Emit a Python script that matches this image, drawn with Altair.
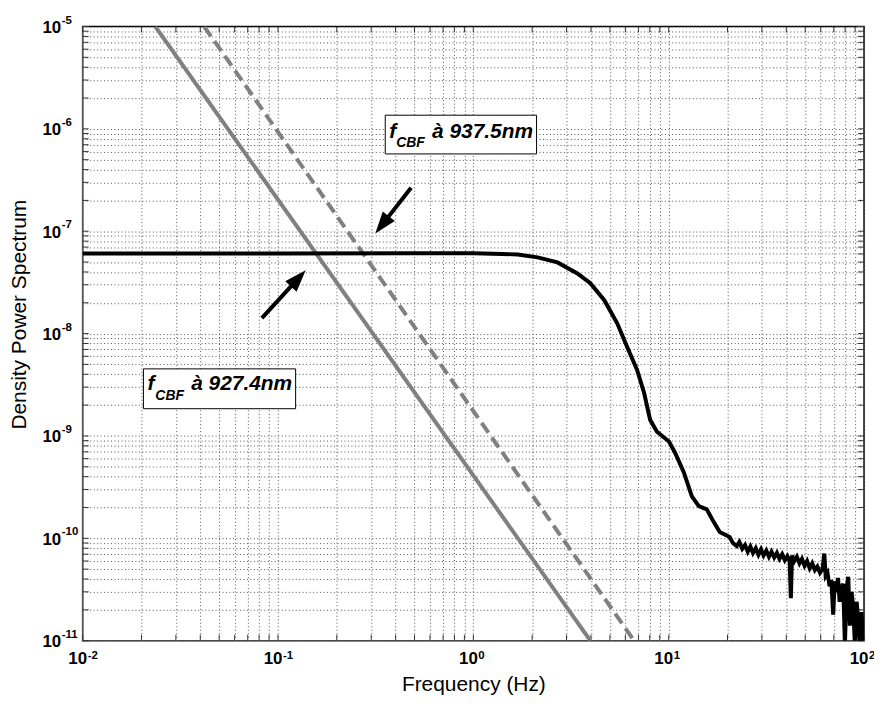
import altair as alt
import pandas as pd

# ---------------- data ----------------
freq = [0.01, 0.1, 0.5, 1.0, 1.4, 1.686, 2.132, 2.696, 3.408, 3.97, 4.68, 5.45, 6.13,
        6.89, 7.48, 8.03, 8.71, 10.03, 10.76, 11.96, 13.14, 14.26, 15.66, 17.01, 18.25,
        20.51, 21.3, 22.3, 23.0, 23.8, 24.6, 25.4, 26.2, 27.0, 27.9, 28.8, 29.7, 30.6,
        31.6, 32.6, 33.6, 34.7, 35.8, 36.9, 38.1, 39.3, 40.5, 41.6, 42.2, 42.8, 44.0,
        45.3, 46.7, 48.1, 49.6, 51.1, 52.7, 54.3, 56.0, 57.7, 59.5, 61.3, 62.6, 63.6,
        65.0, 66.6, 68.0, 69.5, 70.8, 72.2, 73.6, 75.0, 76.6, 78.2, 79.8, 81.4, 83.0,
        84.6, 86.3, 88.0, 89.8, 91.6, 93.4, 95.2, 97.1, 99.0, 100.0]
power = [6.05e-8, 6.05e-8, 6.08e-8, 6.08e-8, 6.0e-8, 5.93e-8, 5.55e-8, 4.96e-8, 3.87e-8,
         3.10e-8, 2.12e-8, 1.26e-8, 7.4e-9, 4.42e-9, 2.64e-9, 1.44e-9, 1.10e-9, 8.81e-10,
         6.89e-10, 4.40e-10, 2.57e-10, 2.06e-10, 1.92e-10, 1.44e-10, 1.15e-10,
         1.03e-10, 9.0e-11, 8.4e-11, 9.2e-11, 7.9e-11, 8.6e-11, 7.4e-11, 8.3e-11, 7.2e-11,
         8.0e-11, 6.9e-11, 7.8e-11, 6.8e-11, 7.6e-11, 6.6e-11, 7.4e-11, 6.5e-11, 7.2e-11,
         6.3e-11, 7.0e-11, 6.1e-11, 6.7e-11, 6.0e-11, 2.6e-11, 6.8e-11, 6.0e-11, 6.6e-11,
         5.7e-11, 6.3e-11, 5.4e-11, 6.0e-11, 5.1e-11, 5.7e-11, 4.9e-11, 5.3e-11, 4.6e-11,
         5.0e-11, 7.1e-11, 4.3e-11, 4.6e-11, 3.4e-11, 3.9e-11, 1.8e-11, 3.8e-11, 3.0e-11,
         4.1e-11, 2.4e-11, 3.3e-11, 3.6e-11, 9e-12, 3.2e-11, 4.2e-11, 1.4e-11, 3.0e-11,
         2.2e-11, 9e-12, 2.4e-11, 1.6e-11, 9e-12, 1.9e-11, 9e-12, 1.5e-11]

# f_CBF asymptotes (927.4 nm solid, 937.5 nm dashed)
cbf1_freq = [0.02355, 3.972]
cbf1_power = [1e-5, 1e-11]
cbf2_freq = [0.04188, 6.65]
cbf2_power = [1e-5, 1e-11]

# annotations
label_texts = ["à 937.5nm", "à 927.4nm"]
label_f_pos = [0.3710, 0.02145]
label_sub_pos = [0.4028, 0.02355]
label_rest_pos = [0.6145, 0.03592]
label_p_base = [8.145e-7, 2.82e-9]
label_p_sub = [6.657e-7, 2.255e-9]
box_f1 = [0.354, 0.02047]
box_f2 = [2.107, 0.1231]
box_p1 = [5.69e-7, 1.845e-9]
box_p2 = [1.36e-6, 4.52e-9]
arrow_tail_f = [0.4801, 0.0827]
arrow_tail_p = [2.658e-7, 1.415e-8]
arrow_head_f = [0.3409, 0.1270]
arrow_head_p = [1.153e-7, 3.457e-8]

# ticks and tick labels
x_ticks = [m * 10.0 ** k for k in range(-2, 2) for m in range(1, 10)] + [100.0]
y_ticks = [m * 10.0 ** k for k in range(-11, -5) for m in range(1, 10)] + [1e-5]
x_decades = [0.01, 0.1, 1.0, 10.0, 100.0]
x_exps = ["-2", "-1", "0", "1", "2"]
y_decades = [1e-11, 1e-10, 1e-9, 1e-8, 1e-7, 1e-6, 1e-5]
y_exps = ["-11", "-10", "-9", "-8", "-7", "-6", "-5"]

W, H = 785, 617
FONT = "Liberation Sans"


def label_expr(decades):
    s = ""
    for v in decades:
        s += f"datum.value == {repr(v)} ? '10' : "
    return s + "''"


xscale = alt.Scale(type="log", domain=[0.01, 100], nice=False)
yscale = alt.Scale(type="log", domain=[1e-11, 1e-5], nice=False)

common_axis = dict(ticks=False, grid=True, gridDash=[1, 2.5], gridColor="#555",
                   gridWidth=1, domainColor="#888", domainWidth=1.5,
                   labelFont=FONT, labelFontSize=17, labelFontWeight="bold",
                   labelColor="black", labelOverlap=False, labelBound=False,
                   labelFlush=False, titleFont=FONT,
                   titleFontWeight="normal", titleColor="black")

xaxis = alt.Axis(values=x_ticks, labelExpr=label_expr(x_decades), labelPadding=10,
                 labelAlign="right", labelOffset=4, labelBaseline="top",
                 title="Frequency (Hz)", titleFontSize=21, titleBaseline="alphabetic",
                 titleY=50, titleX=W / 2, titleAlign="center", **common_axis)
yaxis = alt.Axis(values=y_ticks, labelExpr=label_expr(y_decades), labelPadding=22,
                 labelBaseline="middle", labelOffset=1,
                 title="Density Power Spectrum", titleFontSize=21, titleX=-57, titleY=289,
                 titleAngle=270, titleBaseline="alphabetic", titleAlign="center",
                 **common_axis)


def X(field="f"):
    return alt.X(field, type="quantitative", scale=xscale, axis=xaxis)


def Y(field="p"):
    return alt.Y(field, type="quantitative", scale=yscale, axis=yaxis)


spec_df = pd.DataFrame({"f": freq, "p": power})
cbf1_df = pd.DataFrame({"f": cbf1_freq, "p": cbf1_power})
cbf2_df = pd.DataFrame({"f": cbf2_freq, "p": cbf2_power})
ann_df = pd.DataFrame({"ff": label_f_pos, "fs": label_sub_pos, "fr": label_rest_pos,
                       "pb": label_p_base, "ps": label_p_sub, "txt": label_texts,
                       "f": box_f1, "f2": box_f2, "p": box_p1, "p2": box_p2})
arrow_df = pd.DataFrame({"f": arrow_tail_f, "p": arrow_tail_p,
                         "f2": arrow_head_f, "p2": arrow_head_p})
xt_df = pd.DataFrame({"f": x_ticks})
yt_df = pd.DataFrame({"p": y_ticks})
xe_df = pd.DataFrame({"f": x_decades, "e": x_exps})
ye_df = pd.DataFrame({"p": y_decades, "e": y_exps})

spectrum = alt.Chart(spec_df).mark_line(color="black", strokeWidth=4, clip=True,
                                        strokeJoin="miter").encode(x=X(), y=Y())
cbf1 = alt.Chart(cbf1_df).mark_line(color="#808080", strokeWidth=4, clip=True).encode(x=X(), y=Y())
cbf2 = alt.Chart(cbf2_df).mark_line(color="#808080", strokeWidth=4, clip=True,
                                    strokeDash=[12, 6]).encode(x=X(), y=Y())

boxes = alt.Chart(ann_df).mark_rect(fill="white", stroke="black", strokeWidth=1).encode(
    x=X("f"), x2=alt.X2("f2"), y=Y("p"), y2=alt.Y2("p2"))
t_f = alt.Chart(ann_df).mark_text(text="f", font=FONT, fontSize=21, fontWeight="bold",
                                  fontStyle="italic", align="left", baseline="alphabetic",
                                  color="black").encode(x=X("ff"), y=Y("pb"))
t_sub = alt.Chart(ann_df).mark_text(text="CBF", font=FONT, fontSize=14, fontWeight="bold",
                                    fontStyle="italic", align="left", baseline="alphabetic",
                                    color="black").encode(x=X("fs"), y=Y("ps"))
t_rest = alt.Chart(ann_df).mark_text(font=FONT, fontSize=21, fontWeight="bold",
                                     fontStyle="italic", align="left", baseline="alphabetic",
                                     color="black").encode(x=X("fr"), y=Y("pb"), text="txt:N")

shafts = alt.Chart(arrow_df).mark_rule(color="black", strokeWidth=4).encode(
    x=X("f"), x2=alt.X2("f2"), y=Y("p"), y2=alt.Y2("p2"))
HEAD = "M0,-1L0.7,1L-0.7,1Z"
head1 = alt.Chart(arrow_df.iloc[[0]]).mark_point(shape=HEAD, filled=True, size=484, color="black",
                                                opacity=1, strokeWidth=0, angle=218).encode(
    x=X("f2"), y=Y("p2"))
head2 = alt.Chart(arrow_df.iloc[[1]]).mark_point(shape=HEAD, filled=True, size=484, color="black",
                                                opacity=1, strokeWidth=0, angle=42.5).encode(
    x=X("f2"), y=Y("p2"))

tick_style = dict(color="#333", strokeWidth=1)
xt_bot = alt.Chart(xt_df).mark_rule(**tick_style).encode(x=X(), y=alt.value(H), y2=alt.value(H - 6))
xt_top = alt.Chart(xt_df).mark_rule(**tick_style).encode(x=X(), y=alt.value(0), y2=alt.value(6))
yt_left = alt.Chart(yt_df).mark_rule(**tick_style).encode(y=Y(), x=alt.value(0), x2=alt.value(6))
yt_right = alt.Chart(yt_df).mark_rule(**tick_style).encode(y=Y(), x=alt.value(W), x2=alt.value(W - 6))

exp_style = dict(font=FONT, fontSize=11.5, fontWeight="bold", color="black",
                 align="left", baseline="alphabetic")
x_exp = alt.Chart(xe_df).mark_text(dx=5, dy=18, **exp_style).encode(
    x=X(), y=alt.value(H), text="e:N")
y_exp = alt.Chart(ye_df).mark_text(dx=-21, dy=-3, **exp_style).encode(
    y=Y(), x=alt.value(0), text="e:N")

chart = alt.layer(
    xt_bot, xt_top, yt_left, yt_right,
    cbf1, cbf2, spectrum, boxes, t_f, t_sub, t_rest, shafts, head1, head2,
    x_exp, y_exp
).properties(
    width=W, height=H,
    padding={"left": 75, "top": 17, "right": 10, "bottom": 53},
    autosize=alt.AutoSizeParams(type="none"),
    background="white",
).configure_view(stroke="black", strokeWidth=1.5)

chart.save("out.html", embed_options={"renderer": "svg", "actions": False})
